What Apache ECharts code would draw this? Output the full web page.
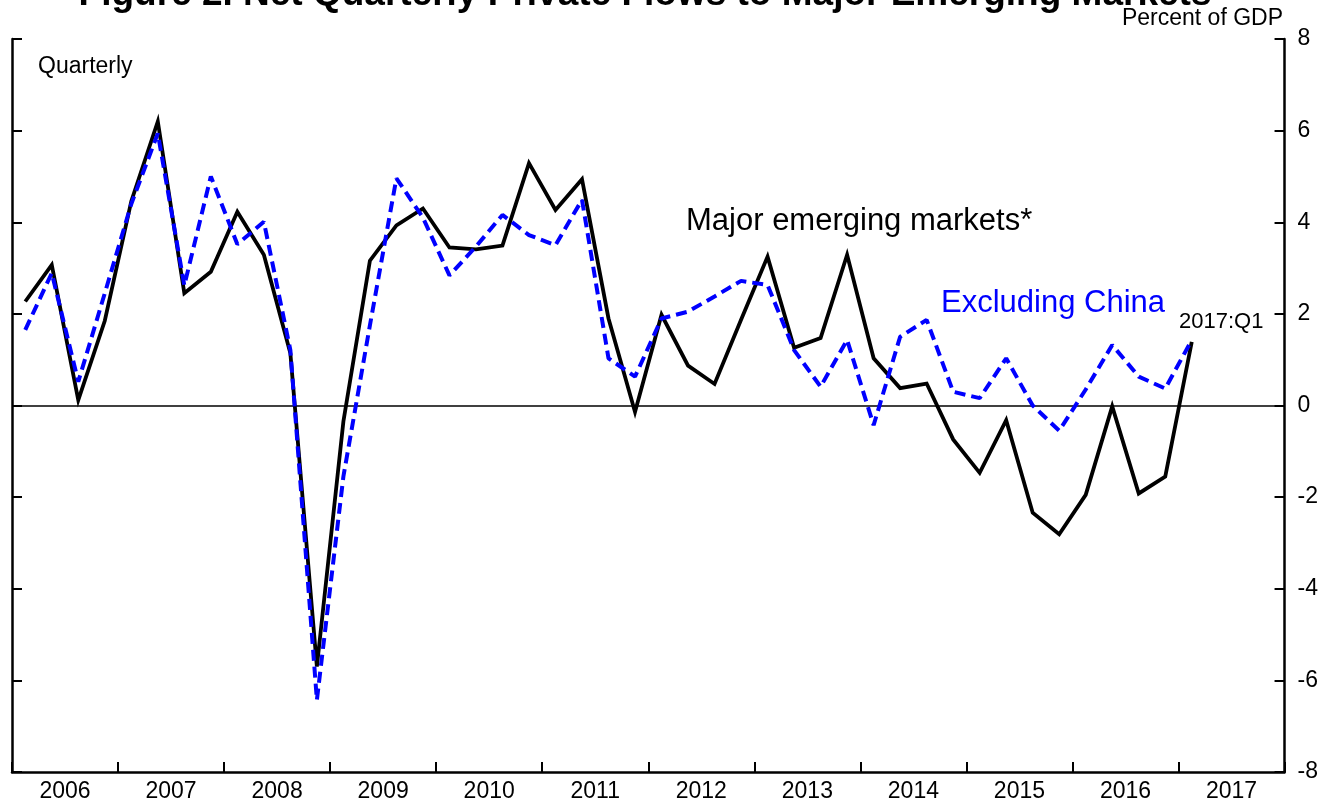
<!DOCTYPE html>
<html>
<head>
<meta charset="utf-8">
<script src="https://cdn.jsdelivr.net/npm/echarts@6/dist/echarts.min.js"></script>
<style>
  html, body { margin: 0; padding: 0; background: #fff; }
  #canvas { width: 1321px; height: 805px; }
</style>
</head>
<body>
<div id="canvas"></div>
<script>
// quarterly, 2006:Q1 .. 2017:Q1, percent of GDP
const years = ['2006', '2007', '2008', '2009', '2010', '2011', '2012', '2013', '2014', '2015', '2016', '2017'];
const quarters = years.flatMap(y => ['Q1', 'Q2', 'Q3', 'Q4'].map(q => y + ':' + q));

const major = [
  2.27, 3.07, 0.12, 1.85,
  4.46, 6.20, 2.45, 2.92,
  4.23, 3.29, 1.14, -5.70,
  -0.35, 3.16, 3.93, 4.30,
  3.45, 3.41, 3.49, 5.29,
  4.27, 4.94, 1.90, -0.14,
  1.98, 0.87, 0.47, 1.87,
  3.25, 1.26, 1.47, 3.29,
  1.03, 0.38, 0.48, -0.74,
  -1.47, -0.32, -2.34, -2.81,
  -1.95, -0.02, -1.92, -1.55,
  1.39
];
const exChina = [
  1.65, 2.89, 0.52, 2.45,
  4.40, 5.94, 2.62, 5.00,
  3.52, 4.01, 1.21, -6.43,
  -1.55, 1.75, 4.96, 4.10,
  2.84, 3.47, 4.16, 3.72,
  3.50, 4.49, 1.03, 0.63,
  1.90, 2.05, 2.38, 2.72,
  2.63, 1.21, 0.41, 1.43,
  -0.43, 1.50, 1.87, 0.30,
  0.16, 1.03, 0.00, -0.55,
  0.35, 1.32, 0.63, 0.37,
  1.43
];

const FONT = '"Liberation Sans", Arial, sans-serif';

function drawChart(canvas = "canvas") {
  const myChart = echarts.init(document.getElementById(canvas));
  const axisBlack = { color: '#000', width: 2.5 };
  const tickBlack = { color: '#000', width: 2 };

  const option = {
    animation: false,
    backgroundColor: '#fff',
    textStyle: { fontFamily: FONT },
    grid: { left: 12, right: 36, top: 39, bottom: 33, containLabel: false },
    xAxis: [
      {
        // quarters carry the data
        type: 'category',
        data: quarters,
        boundaryGap: true,
        show: false
      },
      {
        // years give ticks + labels
        type: 'category',
        data: years,
        position: 'bottom',
        boundaryGap: true,
        axisLine: { onZero: false, lineStyle: axisBlack },
        axisTick: { show: true, inside: true, length: 10, alignWithLabel: false, interval: 0, lineStyle: tickBlack },
        axisLabel: { color: '#000', fontSize: 23, margin: 8, fontFamily: FONT, interval: 0 },
        splitLine: { show: false }
      }
    ],
    yAxis: [
      {
        type: 'value',
        position: 'right',
        min: -8, max: 8, interval: 2,
        axisLine: { show: true, onZero: false, lineStyle: axisBlack },
        axisTick: { show: true, inside: true, length: 10, lineStyle: tickBlack },
        axisLabel: { color: '#000', fontSize: 23, margin: 13, fontFamily: FONT },
        splitLine: { show: false }
      },
      {
        // left border with inward ticks, no labels
        type: 'value',
        position: 'left',
        min: -8, max: 8, interval: 2,
        axisLine: { show: true, onZero: false, lineStyle: axisBlack },
        axisTick: { show: true, inside: true, length: 10, lineStyle: tickBlack },
        axisLabel: { show: false },
        splitLine: { show: false }
      }
    ],
    series: [
      {
        name: 'Major emerging markets*',
        type: 'line',
        xAxisIndex: 0,
        yAxisIndex: 0,
        data: major,
        symbol: 'none',
        lineStyle: { color: '#000', width: 3.8, join: 'miter' },
        z: 3,
        markLine: {
          silent: true,
          symbol: 'none',
          label: { show: false },
          lineStyle: { color: '#000', width: 1.5, type: 'solid' },
          data: [{ yAxis: 0 }],
          z: 1
        }
      },
      {
        name: 'Excluding China',
        type: 'line',
        xAxisIndex: 0,
        yAxisIndex: 0,
        data: exChina,
        symbol: 'none',
        lineStyle: { color: '#0000ff', width: 4, type: [11, 6] },
        z: 4
      }
    ],
    graphic: [
      {
        type: 'text', x: 645, y: -5,
        style: { text: 'Figure 2. Net Quarterly Private Flows to Major Emerging Markets', font: 'bold 37px ' + FONT, fill: '#000', textAlign: 'center', textVerticalAlign: 'middle' }
      },
      {
        type: 'text', x: 1283, y: 19,
        style: { text: 'Percent of GDP', font: '23px ' + FONT, fill: '#000', textAlign: 'right', textVerticalAlign: 'middle' }
      },
      {
        type: 'text', x: 38, y: 67,
        style: { text: 'Quarterly', font: '23px ' + FONT, fill: '#000', textAlign: 'left', textVerticalAlign: 'middle' }
      },
      {
        type: 'text', x: 686, y: 221,
        style: { text: 'Major emerging markets*', font: '31px ' + FONT, fill: '#000', textAlign: 'left', textVerticalAlign: 'middle' }
      },
      {
        type: 'text', x: 941, y: 303,
        style: { text: 'Excluding China', font: '31px ' + FONT, fill: '#0000ff', textAlign: 'left', textVerticalAlign: 'middle' }
      },
      {
        type: 'text', x: 1179, y: 322,
        style: { text: '2017:Q1', font: '22px ' + FONT, fill: '#000', textAlign: 'left', textVerticalAlign: 'middle' }
      }
    ]
  };

  myChart.setOption(option);
}

drawChart();
</script>
</body>
</html>
